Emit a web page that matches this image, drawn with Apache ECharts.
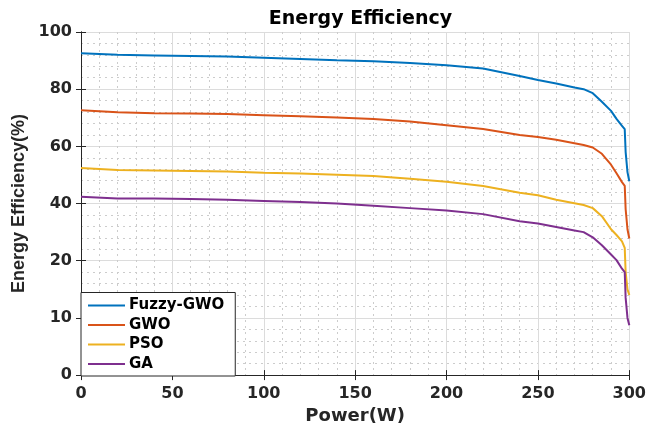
<!DOCTYPE html>
<html>
<head>
<meta charset="utf-8">
<script src="https://cdn.jsdelivr.net/npm/echarts@6/dist/echarts.min.js"></script>
<style>
  html, body { margin: 0; padding: 0; background: #fff; }
  #chart { width: 649px; height: 430px; }
</style>
</head>
<body>
<div id="chart"></div>
<script>
// power samples (W)
const power = [0, 20, 40, 60, 80, 100, 120, 140, 160, 180, 200, 220, 240, 250, 260, 270, 275, 280, 285, 290, 293, 296, 297.5, 298, 299, 300];
// efficiency (%) as read against the printed tick labels
const fuzzyGwo = [92.6, 92.0, 91.8, 91.6, 91.4, 91.0, 90.6, 90.1, 89.8, 89.2, 88.4, 87.2, 84.6, 83.2, 82.0, 80.6, 80.0, 78.6, 75.6, 72.4, 69.6, 67.2, 66.0, 58.0, 51.0, 47.8];
const gwo = [72.6, 71.9, 71.6, 71.5, 71.3, 70.9, 70.5, 70.1, 69.6, 68.7, 67.4, 66.1, 64.0, 63.3, 62.3, 61.1, 60.5, 59.6, 57.4, 53.6, 50.6, 47.5, 46.2, 38.0, 31.0, 27.8];
const pso = [52.4, 51.7, 51.6, 51.4, 51.2, 50.8, 50.5, 50.1, 49.6, 48.7, 47.6, 46.1, 43.8, 42.9, 41.3, 40.1, 39.5, 38.4, 35.6, 31.0, 29.0, 26.8, 24.5, 18.0, 15.0, 14.0];
const ga = [42.4, 41.8, 41.8, 41.6, 41.3, 40.9, 40.5, 40.0, 39.2, 38.4, 37.6, 36.3, 33.8, 33.0, 31.8, 30.6, 30.0, 28.2, 25.4, 22.2, 20.2, 18.6, 18.0, 13.5, 10.0, 8.7];

const seriesNames = ['Fuzzy-GWO', 'GWO', 'PSO', 'GA'];
const seriesColors = ['#0072BD', '#D95319', '#EDB120', '#7E2F8E'];
// y ticks are evenly spaced but labelled unevenly
const yTickValues = [0, 10, 20, 40, 60, 80, 100];

// map a labelled value onto the evenly spaced tick positions
function toAxis(v) {
  for (let i = 0; i < yTickValues.length - 1; i++) {
    if (v <= yTickValues[i + 1]) {
      return i + (v - yTickValues[i]) / (yTickValues[i + 1] - yTickValues[i]);
    }
  }
  return yTickValues.length - 1;
}

const axisColor = '#262626';
const tickFont = { fontFamily: 'DejaVu Sans', fontWeight: 'bold', fontSize: 16, color: axisColor };

const chart = echarts.init(document.getElementById('chart'), null, { renderer: 'canvas' });

const valueSets = [fuzzyGwo, gwo, pso, ga];
const series = valueSets.map((vals, k) => ({
  name: seriesNames[k],
  type: 'line',
  xAxisIndex: 0,
  yAxisIndex: 0,
  symbol: 'none',
  smooth: false,
  lineStyle: { width: 2, color: seriesColors[k] },
  itemStyle: { color: seriesColors[k] },
  data: power.map((p, i) => [p, toAxis(vals[i])])
}));

chart.setOption({
  animation: false,
  backgroundColor: '#fff',
  title: {
    text: 'Energy Efficiency',
    left: 355.5,
    top: 5,
    textAlign: 'center',
    textStyle: { fontFamily: 'DejaVu Sans', fontWeight: 'bold', fontSize: 19, color: '#000' }
  },
  grid: { left: 81, right: 19, top: 32, bottom: 54, containLabel: false },
  legend: {
    orient: 'vertical',
    left: 81,
    bottom: 54,
    padding: [5, 11, 4, 7],
    itemGap: 3.5,
    itemWidth: 37,
    itemHeight: 2,
    icon: 'rect',
    backgroundColor: '#fff',
    borderColor: axisColor,
    borderWidth: 1,
    borderRadius: 0,
    data: seriesNames,
    textStyle: { fontFamily: 'DejaVu Sans', fontWeight: 'bold', fontSize: 15, lineHeight: 16, color: '#000', padding: [0, 0, 0, -1] }
  },
  xAxis: [{
    type: 'value',
    min: 0,
    max: 300,
    interval: 50,
    name: 'Power(W)',
    nameLocation: 'middle',
    nameGap: 31,
    nameTextStyle: { fontFamily: 'DejaVu Sans', fontWeight: 'bold', fontSize: 18, color: axisColor },
    axisLine: { show: true, lineStyle: { color: axisColor, width: 1 } },
    axisTick: { show: true, inside: true, length: 5, lineStyle: { color: axisColor } },
    axisLabel: Object.assign({ margin: 11 }, tickFont),
    splitLine: { show: true, lineStyle: { color: '#dcdcdc', width: 1 } },
    minorTick: { show: false, splitNumber: 5 },
    minorSplitLine: { show: true, lineStyle: { color: '#cccccc', type: [2, 4], width: 1 } }
  }, {
    type: 'value',
    position: 'top',
    min: 0,
    max: 300,
    interval: 50,
    axisLine: { show: true, lineStyle: { color: axisColor, width: 1 } },
    axisTick: { show: true, inside: true, length: 5, lineStyle: { color: axisColor } },
    axisLabel: { show: false },
    splitLine: { show: false }
  }],
  yAxis: [{
    type: 'value',
    min: 0,
    max: 6,
    interval: 1,
    name: 'Energy Efficiency(%)',
    nameLocation: 'middle',
    nameGap: 49,
    nameTextStyle: { fontFamily: 'Liberation Sans', fontWeight: 'bold', fontSize: 18, color: axisColor },
    axisLine: { show: true, lineStyle: { color: axisColor, width: 1 } },
    axisTick: { show: true, inside: true, length: 5, lineStyle: { color: axisColor } },
    axisLabel: Object.assign({ margin: 9, formatter: v => String(yTickValues[Math.round(v)]) }, tickFont),
    splitLine: { show: true, lineStyle: { color: '#dcdcdc', width: 1 } },
    minorTick: { show: false, splitNumber: 5 },
    minorSplitLine: { show: true, lineStyle: { color: '#cccccc', type: [2, 4], width: 1 } }
  }, {
    type: 'value',
    position: 'right',
    min: 0,
    max: 6,
    interval: 1,
    axisLine: { show: true, lineStyle: { color: axisColor, width: 1 } },
    axisTick: { show: true, inside: true, length: 5, lineStyle: { color: axisColor } },
    axisLabel: { show: false },
    splitLine: { show: false }
  }],
  series: series
});
</script>
</body>
</html>
